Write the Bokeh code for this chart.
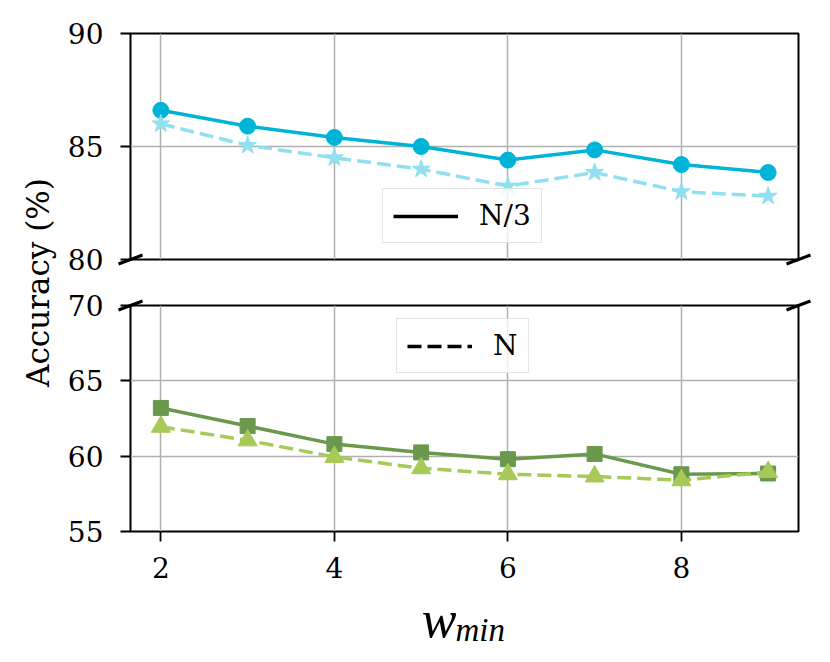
import math
from bokeh.plotting import figure
from bokeh.models import Range1d, FixedTicker, Legend, LegendItem, GridBox
from bokeh.embed import file_html
from bokeh.resources import INLINE
from bokeh.core.properties import value

# ---------------- data ----------------
w_min = [2, 3, 4, 5, 6, 7, 8, 9]
acc_n3_solid = [86.6, 85.9, 85.4, 85.0, 84.4, 84.85, 84.2, 83.85]
acc_n3_dashed = [86.0, 85.05, 84.5, 84.0, 83.25, 83.85, 83.0, 82.8]
acc_n_solid = [63.2, 62.0, 60.8, 60.25, 59.8, 60.15, 58.8, 58.85]
acc_n_dashed = [61.95, 61.05, 59.95, 59.2, 58.8, 58.65, 58.4, 58.95]
x_ticks = [2, 4, 6, 8]
top_y_ticks = [80, 85, 90]
bottom_y_ticks = [55, 60, 65, 70]
x_limits = (1.65, 9.35)
top_y_limits = (80, 90)
bottom_y_limits = (55, 70)
legend_top_label = "N/3"
legend_bottom_label = "N"
y_label = "Accuracy (%)"
x_label_main = "w"
x_label_sub = "min"

# ---------------- style / layout ----------------
FONT = "DejaVu Serif"
MATH_FONT = "Liberation Serif"
TICK_FS = "28px"
LEG_FS = "28px"
LEFT = 130
FRAME_W, FRAME_H = 668, 226
RIGHT_B = 16
TOP1 = 33
GAP = 46
TOTAL_W = LEFT + FRAME_W + RIGHT_B
TOP_H = TOP1 + FRAME_H + GAP // 2
BOT_TOP_B = GAP - GAP // 2
TOTAL_H = 658
BOT_H = TOTAL_H - TOP_H
C_TOP_SOLID = "#00b4d8"
C_TOP_DASH = "#90e0ef"
C_BOT_SOLID = "#6a994e"
C_BOT_DASH = "#a7c957"
DASH = "14 6"
LW = 3.5
NAN = float("nan")


def make_panel(ylims, yticks, height, top_border, bottom_border, show_x):
    p = figure(width=TOTAL_W, height=height,
               x_range=Range1d(*x_limits), y_range=Range1d(*ylims),
               output_backend="svg", toolbar_location=None,
               min_border_left=LEFT, min_border_right=RIGHT_B,
               min_border_top=top_border, min_border_bottom=bottom_border)
    p.outline_line_color = "black"
    p.outline_line_width = 2
    p.outline_line_alpha = 1
    p.yaxis.ticker = FixedTicker(ticks=yticks)
    p.xaxis.ticker = FixedTicker(ticks=x_ticks)
    p.xgrid.ticker = FixedTicker(ticks=x_ticks)
    p.ygrid.ticker = FixedTicker(ticks=yticks)
    for ax in (p.xaxis[0], p.yaxis[0]):
        ax.axis_line_color = None
        ax.major_tick_in = 0
        ax.major_tick_out = 10
        ax.major_tick_line_width = 1.8
        ax.minor_tick_in = 0
        ax.minor_tick_out = 0
        ax.major_label_text_font = FONT
        ax.major_label_text_font_size = TICK_FS
        ax.major_label_text_color = "black"
    p.yaxis.major_label_standoff = 17
    p.xaxis.major_label_standoff = 15
    p.xaxis.visible = show_x
    for g in (p.xgrid[0], p.ygrid[0]):
        g.grid_line_color = "#b0b0b0"
        g.grid_line_width = 1.5
    p.background_fill_color = "white"
    p.border_fill_color = "white"
    return p


def add_legend(p, label, dash, loc):
    r = p.line([NAN, NAN], [NAN, NAN], line_color="black", line_width=3.5, line_dash=dash)
    leg = Legend(items=[LegendItem(label=label, renderers=[r])], location=loc)
    leg.label_text_font = FONT
    leg.label_text_font_size = LEG_FS
    leg.label_text_color = "black"
    leg.glyph_width = 65
    leg.glyph_height = 30
    leg.label_height = 30
    leg.label_standoff = 21
    leg.padding = 10
    leg.margin = 0
    leg.spacing = 0
    leg.border_line_color = "#cccccc"
    leg.border_line_width = 1.5
    leg.background_fill_color = "white"
    leg.background_fill_alpha = 0.8
    p.add_layout(leg)


# ---------------- top panel ----------------
top = make_panel(top_y_limits, top_y_ticks, TOP_H, TOP1, GAP // 2, False)
top.line(w_min, acc_n3_solid, line_color=C_TOP_SOLID, line_width=LW)
top.scatter(w_min, acc_n3_solid, marker="circle", size=16, fill_color=C_TOP_SOLID, line_color=C_TOP_SOLID)
top.line(w_min, acc_n3_dashed, line_color=C_TOP_DASH, line_width=LW, line_dash=DASH)
top.scatter(w_min, acc_n3_dashed, marker="star", size=19, fill_color=C_TOP_DASH, line_color=C_TOP_DASH)
add_legend(top, legend_top_label, "solid", (252, 16))

# ---------------- bottom panel ----------------
bottom = make_panel(bottom_y_limits, bottom_y_ticks, BOT_H, BOT_TOP_B,
                    BOT_H - BOT_TOP_B - FRAME_H, True)
bottom.line(w_min, acc_n_solid, line_color=C_BOT_SOLID, line_width=LW)
bottom.scatter(w_min, acc_n_solid, marker="square", size=15, fill_color=C_BOT_SOLID, line_color=C_BOT_SOLID)
bottom.line(w_min, acc_n_dashed, line_color=C_BOT_DASH, line_width=LW, line_dash=DASH)
bottom.scatter(w_min, acc_n_dashed, marker="triangle", size=19, fill_color=C_BOT_DASH, line_color=C_BOT_DASH)
add_legend(bottom, legend_bottom_label, DASH, (266, 158))

# ---------------- transparent overlay: shared labels and axis-break marks ----------------
ov = figure(width=TOTAL_W, height=TOTAL_H, x_range=Range1d(0, TOTAL_W), y_range=Range1d(TOTAL_H, 0),
            output_backend="svg", toolbar_location=None,
            x_axis_location=None, y_axis_location=None, min_border=0)
ov.frame_align = False
ov.outline_line_color = None
ov.xgrid.visible = False
ov.ygrid.visible = False
ov.background_fill_alpha = 0
ov.border_fill_alpha = 0

bot1 = TOP1 + FRAME_H
top2 = bot1 + GAP
bot2 = top2 + FRAME_H
xl, xr = LEFT, LEFT + FRAME_W
cx = [xl, xr, xl, xr]
cy = [bot1, bot1, top2, top2]
ov.segment(x0=[c - 12 for c in cx], y0=[c + 4.5 for c in cy],
           x1=[c + 12 for c in cx], y1=[c - 4.5 for c in cy],
           line_color="black", line_width=3)

ov.text(x=[37], y=[(TOP1 + bot2) / 2], text=[y_label], angle=math.pi / 2,
        text_align="center", text_baseline="middle",
        text_font=value(FONT), text_font_size="31px", text_color="black")
xmid = (xl + xr) / 2
ov.text(x=[xmid - 8], y=[bot2 + 88], text=[x_label_main],
        text_align="right", text_baseline="alphabetic", text_font_style="italic",
        text_font=value(MATH_FONT), text_font_size="52px", text_color="black")
ov.text(x=[xmid - 9], y=[bot2 + 98], text=[x_label_sub],
        text_align="left", text_baseline="alphabetic", text_font_style="italic",
        text_font=value(MATH_FONT), text_font_size="33px", text_color="black")

layout = GridBox(children=[(top, 0, 0), (bottom, 1, 0), (ov, 0, 0, 2, 1)])
open("out.html", "w").write(file_html(layout, INLINE))
